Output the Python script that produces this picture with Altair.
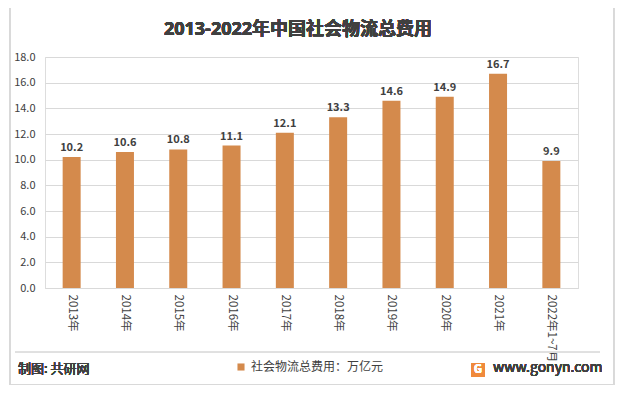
import altair as alt
import pandas as pd

years = ["2013年", "2014年", "2015年", "2016年", "2017年", "2018年", "2019年", "2020年", "2021年", "2022年1~7月"]
values = [10.2, 10.6, 10.8, 11.1, 12.1, 13.3, 14.6, 14.9, 16.7, 9.9]
y_ticks = [0, 2, 4, 6, 8, 10, 12, 14, 16, 18]
series = "社会物流总费用：万亿元"
title = "2013-2022年中国社会物流总费用"

df = pd.DataFrame({"year": years, "value": values, "series": [series] * len(years)})

FONT = "Noto Sans CJK SC"
TFONT = "Open Sans, Noto Sans CJK SC, sans-serif"
BAR = "#D48A4C"
TXT = "#404040"

X = alt.X("year:N", sort=years,
          axis=alt.Axis(title=None, labelAngle=90, labelAlign="left", labelBaseline="middle",
                        labelFontSize=11.5, labelColor=TXT, labelFont=FONT, ticks=False,
                        domainColor="#D9D9D9", labelPadding=6))
Y = alt.Y("value:Q", scale=alt.Scale(domain=[0, 18]),
          axis=alt.Axis(title=None, values=y_ticks, format=".1f",
                        labelFontSize=11, labelColor=TXT, labelFont=FONT, domain=False, ticks=False,
                        gridColor="#D9D9D9", labelPadding=10, labelOverlap=False))

base = alt.Chart(df).encode(x=X, y=Y)

bars = base.mark_bar(size=18).encode(
    color=alt.Color("series:N", scale=alt.Scale(range=[BAR]),
                    legend=alt.Legend(title=None, orient="none", legendX=190, legendY=304,
                                      symbolType="square", symbolSize=50, labelFontSize=12,
                                      labelColor=TXT, labelFont=FONT, symbolStrokeWidth=0)),
)

labels = base.mark_text(dy=-9, fontSize=11, fontWeight="bold", color=TXT, font=FONT).encode(
    text=alt.Text("value:Q", format=".1f"),
)

border = alt.Chart(df).mark_rect(fill=None, stroke="#D9D9D9", strokeWidth=1).encode(
    x=alt.value(-35), x2=alt.value(569), y=alt.value(-53), y2=alt.value(328)
)
ttl = alt.Chart(df).mark_text(align="center", baseline="middle", fontSize=18, fontWeight="bold",
                              color=TXT, font=TFONT).encode(
    x=alt.value(253), y=alt.value(-27), text=alt.value(title)
)
sep = alt.Chart(df).mark_rule(color="#E0E0E0").encode(
    x=alt.value(-30), x2=alt.value(555), y=alt.value(295)
)
src = alt.Chart(df).mark_text(align="left", baseline="middle", fontSize=13, color=TXT, font=FONT).encode(
    x=alt.value(-27), y=alt.value(312), text=alt.value("制图: 共研网")
)
logo = alt.Chart(df).mark_rect(color="#F08A3C", cornerRadius=2).encode(
    x=alt.value(426), x2=alt.value(440), y=alt.value(306), y2=alt.value(320)
)
logo_g = alt.Chart(df).mark_text(align="center", baseline="middle", fontSize=11, fontWeight="bold",
                                 color="white", font=FONT).encode(
    x=alt.value(433), y=alt.value(313), text=alt.value("G")
)
site = alt.Chart(df).mark_text(align="left", baseline="middle", fontSize=14, color=TXT, font=FONT).encode(
    x=alt.value(448), y=alt.value(311), text=alt.value("www.gonyn.com")
)

chart = alt.layer(border, ttl, sep, bars, labels, src, logo, logo_g, site).properties(
    width=533, height=231,
    autosize=alt.AutoSizeParams(type="none"),
    padding={"left": 37, "top": 49, "right": 38, "bottom": 97},
).configure_view(stroke=None).configure(background="white")

chart.save("out.html", embed_options={"renderer": "svg", "actions": False})
